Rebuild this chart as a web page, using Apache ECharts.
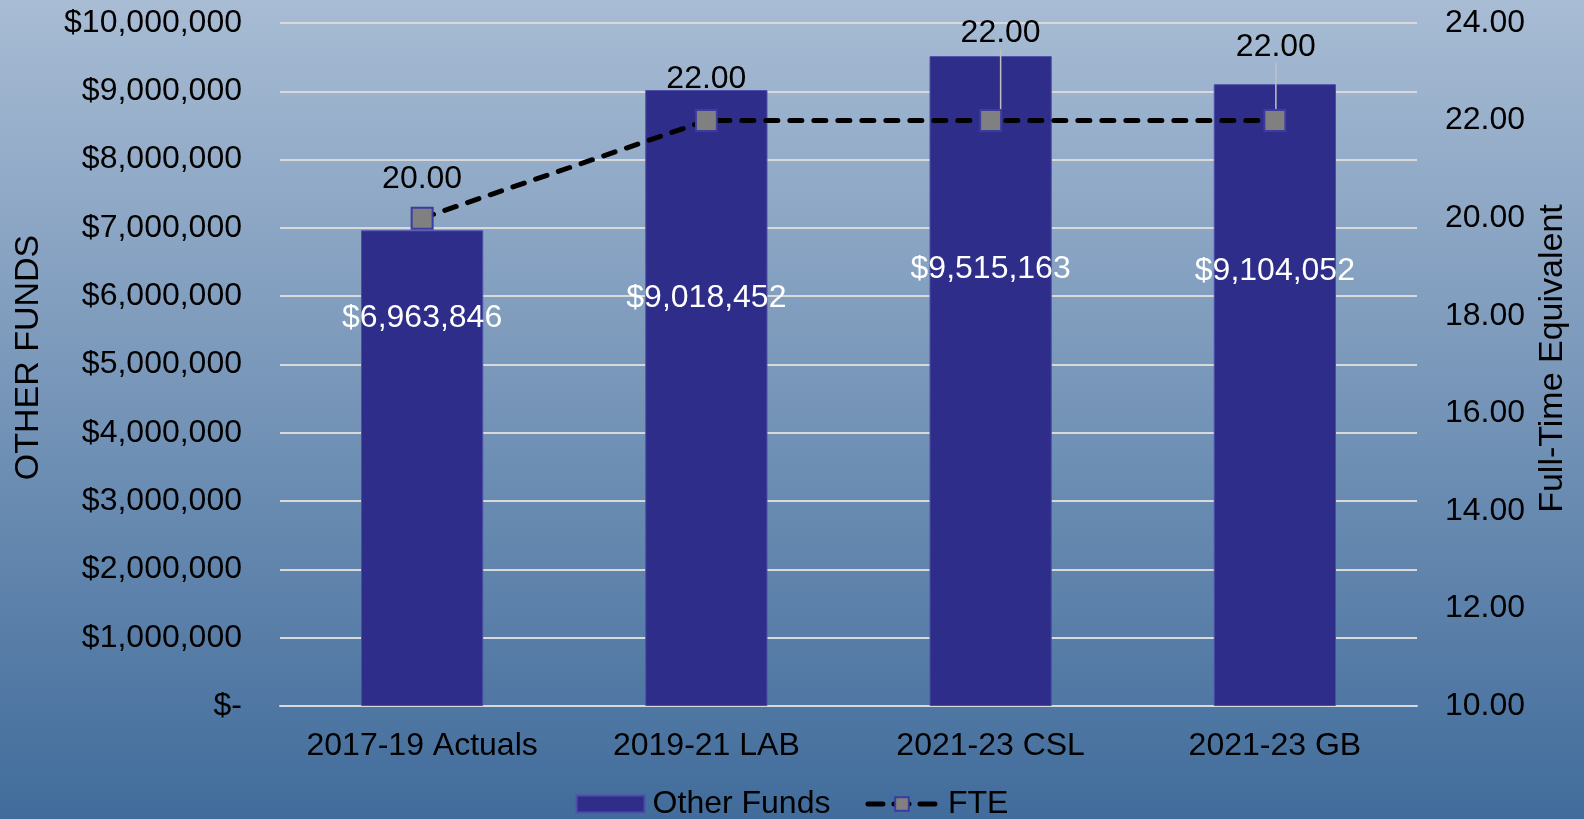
<!DOCTYPE html>
<html>
<head>
<meta charset="utf-8">
<script src="https://cdn.jsdelivr.net/npm/echarts@6/dist/echarts.min.js"></script>
<style>
html,body{margin:0;padding:0;}
#c{width:1584px;height:819px;}
</style>
</head>
<body>
<div id="c"></div>
<script>
var categories = ['2017-19 Actuals', '2019-21 LAB', '2021-23 CSL', '2021-23 GB'];
var otherFunds = [6963846, 9018452, 9515163, 9104052];
var fte = [20, 22, 22, 22];
var leftTicks = [0, 10000000, 1000000];
var rightTicks = [10, 24, 2];

// label placement tweaks (pixels)
var barLabelDy = [67, 187, 192, 166];
var fteLabelDx = [0, 0, 10, 1];
var fteLabelDy = [-6, -9, -55, -41];
var fteLeader = [false, false, true, true];

var FONT = '"Liberation Sans", Arial, sans-serif';
var FS = 32;
var chart = echarts.init(document.getElementById('c'));

function money(v) {
  if (v === 0) return '$-';
  return '$' + v.toLocaleString('en-US');
}

var fteData = fte.map(function (v, i) {
  return { value: v, labelLine: { show: fteLeader[i] } };
});

chart.setOption({
  backgroundColor: {
    type: 'linear', x: 0, y: 0, x2: 0, y2: 1,
    colorStops: [{ offset: 0, color: '#a8bcd4' }, { offset: 1, color: '#416c9b' }]
  },
  textStyle: { fontFamily: FONT },
  grid: { left: 280, right: 167, top: 23, bottom: 113 },
  legend: {
    left: 'center', top: 783,
    itemWidth: 68, itemHeight: 17, itemGap: 35,
    textStyle: { fontSize: FS, color: '#000', fontFamily: FONT, padding: [0, 0, 0, 3] },
    data: [
      { name: 'Other Funds', icon: 'rect' },
      { name: 'FTE', lineStyle: { width: 5, type: [15, 11], cap: 'round', color: '#000' },
        textStyle: { padding: [0, 0, 0, 7] } }
    ]
  },
  xAxis: {
    type: 'category', data: categories,
    axisLine: { show: true, lineStyle: { color: '#d9d9d9', width: 2 } },
    axisTick: { show: false },
    axisLabel: { color: '#000', fontSize: FS, margin: 24, fontFamily: FONT, interval: 0 }
  },
  yAxis: [
    {
      type: 'value', min: leftTicks[0], max: leftTicks[1], interval: leftTicks[2],
      name: 'OTHER FUNDS', nameLocation: 'middle', nameGap: 234,
      nameTextStyle: { fontSize: 34, color: '#000', fontFamily: FONT, padding: [0, 0, 0, 14] },
      axisLine: { show: false }, axisTick: { show: false },
      axisLabel: { color: '#000', fontSize: FS, margin: 38, formatter: money, fontFamily: FONT },
      splitLine: { lineStyle: { color: '#d9d9d9', width: 2 } }
    },
    {
      type: 'value', min: rightTicks[0], max: rightTicks[1], interval: rightTicks[2],
      name: 'Full-Time Equivalent', nameLocation: 'middle', nameGap: 119,
      nameTextStyle: { fontSize: 34, color: '#000', fontFamily: FONT, padding: [0, 0, 0, 12] },
      axisLine: { show: false }, axisTick: { show: false },
      axisLabel: { color: '#000', fontSize: FS, margin: 28, fontFamily: FONT,
        formatter: function (v) { return v.toFixed(2); } },
      splitLine: { show: false }
    }
  ],
  series: [
    {
      name: 'Other Funds', type: 'bar', data: otherFunds, yAxisIndex: 0,
      barWidth: '43%',
      itemStyle: { color: '#2e2d89', borderColor: '#4e4eaa', borderWidth: 1 },
      label: {
        show: true, position: 'insideTop', color: '#fff', fontSize: FS, fontFamily: FONT,
        formatter: function (p) { return money(p.value); }
      },
      labelLayout: function (p) { return { dy: barLabelDy[p.dataIndex] }; }
    },
    {
      name: 'FTE', type: 'line', data: fteData, yAxisIndex: 1,
      symbol: 'rect', symbolSize: 21,
      lineStyle: { color: '#000', width: 5, type: [12, 12], cap: 'round' },
      itemStyle: { color: '#808080', borderColor: '#3b3ba0', borderWidth: 2 },
      label: {
        show: true, position: 'top', color: '#000', fontSize: FS, fontFamily: FONT,
        formatter: function (p) { return p.value.toFixed(2); }
      },
      labelLine: { show: true, lineStyle: { color: '#c0c0c0', width: 1.5 } },
      labelLayout: function (p) { return { dx: fteLabelDx[p.dataIndex], dy: fteLabelDy[p.dataIndex] }; },
      z: 5
    }
  ]
});
</script>
</body>
</html>
